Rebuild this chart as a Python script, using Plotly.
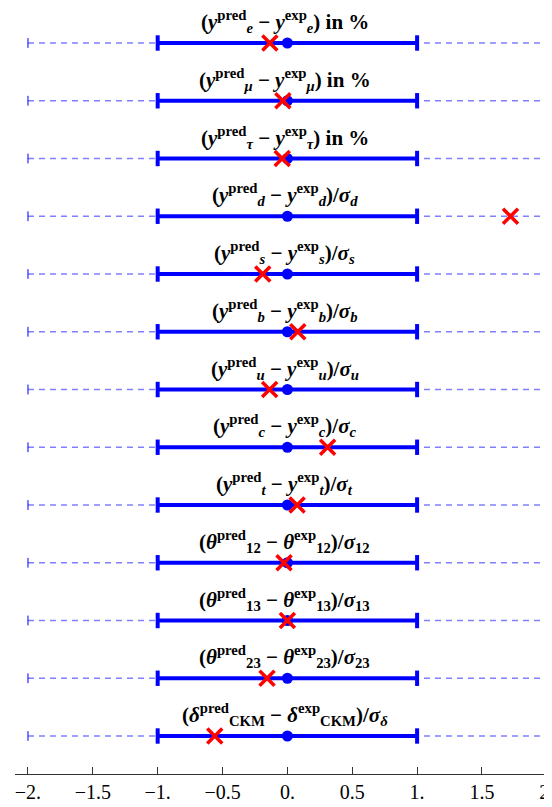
import plotly.graph_objects as go

# row labels (top to bottom) and the fitted pulls (red crosses)
symbols = ["y", "y", "y", "y", "y", "y", "y", "y", "y", "θ", "θ", "θ", "δ"]
subs = ["<i>e</i>", "<i>μ</i>", "<i>τ</i>", "<i>d</i>", "<i>s</i>", "<i>b</i>", "<i>u</i>",
        "<i>c</i>", "<i>t</i>", "12", "13", "23", "CKM"]
tails = [" in %", " in %", " in %",
         ")/<i>σ</i><sub><i>d</i></sub>", ")/<i>σ</i><sub><i>s</i></sub>", ")/<i>σ</i><sub><i>b</i></sub>",
         ")/<i>σ</i><sub><i>u</i></sub>", ")/<i>σ</i><sub><i>c</i></sub>", ")/<i>σ</i><sub><i>t</i></sub>",
         ")/<i>σ</i><sub>12</sub>", ")/<i>σ</i><sub>13</sub>", ")/<i>σ</i><sub>23</sub>",
         ")/<i>σ</i><sub><i>δ</i></sub>"]
pulls = [-0.135, -0.035, -0.04, 1.72, -0.19, 0.08, -0.137, 0.31, 0.075, -0.026, 0.0, -0.157, -0.56]

outer = [-2, 2]
inner = [-1, 1]
centre = 0
ticks = [-2, -1.5, -1, -0.5, 0, 0.5, 1, 1.5, 2]
tick_text = ["−2.", "−1.5", "−1.", "−0.5", "0.", "0.5", "1.", "1.5", "2."]

rows = list(range(len(pulls)))

def seg_xy(rng):
    xs, ys = [], []
    for r in rows:
        xs += [rng[0], rng[1], None]
        ys += [r, r, None]
    return xs, ys

fig = go.Figure()

ox, oy = seg_xy(outer)
fig.add_trace(go.Scatter(x=ox, y=oy, mode="lines",
                         line=dict(color="#7f7fff", width=1.5, dash="6px,5px"), hoverinfo="skip"))
fig.add_trace(go.Scatter(x=[v for r in rows for v in outer], y=[r for r in rows for _ in outer],
                         mode="markers", marker=dict(symbol="line-ns", size=7,
                                                     line=dict(color="#0000ff", width=1)), hoverinfo="skip"))

ix, iy = seg_xy(inner)
fig.add_trace(go.Scatter(x=ix, y=iy, mode="lines", line=dict(color="#0000ff", width=4), hoverinfo="skip"))
fig.add_trace(go.Scatter(x=[v for r in rows for v in inner], y=[r for r in rows for _ in inner],
                         mode="markers", marker=dict(symbol="line-ns", size=11,
                                                     line=dict(color="#0000ff", width=4)), hoverinfo="skip"))
fig.add_trace(go.Scatter(x=[centre] * len(rows), y=rows, mode="markers",
                         marker=dict(color="#0000ff", size=11), hoverinfo="skip"))
fig.add_trace(go.Scatter(x=pulls, y=rows, mode="markers",
                         marker=dict(symbol="x-thin", size=15, line=dict(color="#ff0000", width=3.5)),
                         hoverinfo="skip"))

for r, sym, sub, tail in zip(rows, symbols, subs, tails):
    s = f"<i>{sym}</i>"
    if tail.startswith(" in"):
        label = f"<b>({s}<sup>pred</sup><sub>{sub}</sub> − {s}<sup>exp</sup><sub>{sub}</sub>){tail}</b>"
    else:
        label = f"<b>({s}<sup>pred</sup><sub>{sub}</sub> − {s}<sup>exp</sup><sub>{sub}</sub>{tail}</b>"
    fig.add_annotation(x=-0.02, y=r, text=label, showarrow=False, xanchor="center", yanchor="bottom",
                       yshift=5, font=dict(family="Liberation Serif", size=21, color="black"))

# page body has an 8px margin, so the figure is a bit smaller than the window
fig.update_layout(
    width=544, height=799, showlegend=False,
    margin=dict(l=7, r=0, t=0, b=33),
    plot_bgcolor="white", paper_bgcolor="white",
    xaxis=dict(range=[-2.1, 2.04], tickvals=ticks, ticktext=tick_text, showgrid=False, zeroline=False,
               showline=True, linecolor="#333", linewidth=1, ticks="inside", ticklen=7, tickcolor="#333",
               automargin=False, ticklabeloverflow="allow",
               tickfont=dict(family="Liberation Serif", size=20, color="black")),
    yaxis=dict(range=[12.658, -0.606], visible=False, automargin=False),
)

fig.write_html("out.html")
